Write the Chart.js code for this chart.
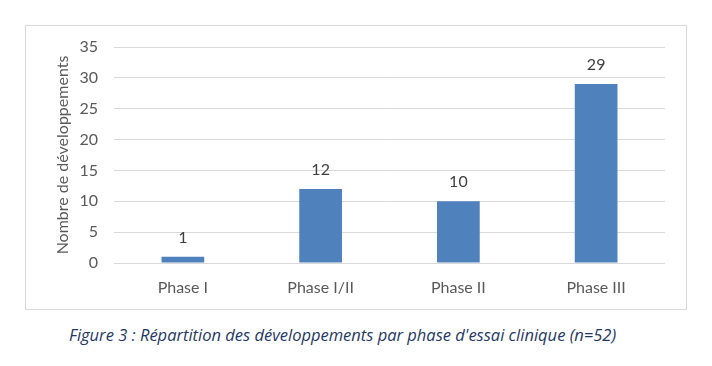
<!DOCTYPE html>
<html>
<head>
<meta charset="utf-8">
<script src="https://cdn.jsdelivr.net/npm/chart.js@4"></script>
<style>
    body { margin: 0; background: #fff; width: 712px; height: 366px; position: relative; overflow: hidden; }
    #box { position: absolute; left: 25px; top: 25px; width: 660px; height: 283px; border: 1px solid #d9d9d9; }
    #caption { position: absolute; left: 69px; top: 323px; font-family: 'Open Sans', Lato, sans-serif; font-style: italic;
        font-size: 16.5px; color: #1f3864; white-space: nowrap; }
</style>
</head>
<body>
<div id="box"><canvas id="chart" width="660" height="283"></canvas></div>
<div id="caption">Figure 3 : Répartition des développements par phase d'essai clinique (n=52)</div>
<script>
    const phases = ['Phase I', 'Phase I/II', 'Phase II', 'Phase III'];
    const counts = [1, 12, 10, 29];
    const yTicks = [0, 5, 10, 15, 20, 25, 30, 35];

    const FONT = 'Lato';
    const TEXT = '#595959';

    // draw the value above each bar
    const barLabels = {
        id: 'barLabels',
        afterDatasetsDraw(chart) {
            const ctx = chart.ctx;
            const meta = chart.getDatasetMeta(0);
            ctx.save();
            ctx.font = `16px ${FONT}`;
            ctx.fillStyle = '#404040';
            ctx.textAlign = 'center';
            ctx.textBaseline = 'bottom';
            meta.data.forEach((bar, i) => {
                ctx.fillText(String(counts[i]), bar.x, bar.y - 11);
            });
            ctx.restore();
        }
    };

    new Chart(document.getElementById('chart'), {
        type: 'bar',
        data: {
            labels: phases,
            datasets: [{
                data: counts,
                backgroundColor: '#4f81bd',
                barPercentage: 0.31,
                categoryPercentage: 1
            }]
        },
        options: {
            responsive: false,
            animation: false,
            events: [],
            layout: { padding: { top: 21, right: 21, left: 0, bottom: 0 } },
            plugins: { legend: { display: false }, tooltip: { enabled: false } },
            scales: {
                x: {
                    grid: { display: false },
                    border: { display: false },
                    ticks: { color: TEXT, font: { family: FONT, size: 16 }, padding: 7 },
                    afterFit(scale) { scale.height = 46; }
                },
                y: {
                    min: 0,
                    max: 35,
                    afterBuildTicks(scale) { scale.ticks = yTicks.map(v => ({ value: v })); },
                    grid: { color: '#d9d9d9', lineWidth: 1, drawTicks: false },
                    border: { display: false },
                    ticks: { color: TEXT, font: { family: FONT, size: 16 }, padding: 16 },
                    title: {
                        display: true,
                        text: 'Nombre de développements',
                        color: TEXT,
                        font: { family: FONT, size: 16 },
                        padding: { top: 27, bottom: 0 }
                    },
                    afterFit(scale) {
                        scale.width = 88;
                        scale.paddingTop = 0;
                        scale.paddingBottom = 0;
                    }
                }
            }
        },
        plugins: [barLabels]
    });
</script>
</body>
</html>
